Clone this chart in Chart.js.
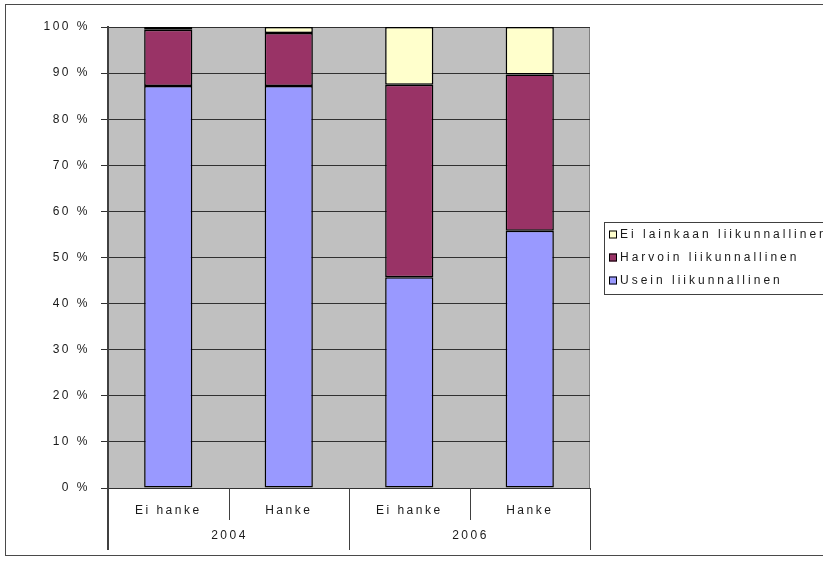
<!doctype html>
<html lang="fi">
<head>
  <meta charset="utf-8">
  <title>Liikunnallisuus 2004 ja 2006</title>
  <script src="https://cdn.jsdelivr.net/npm/chart.js"></script>
  <style>
    html, body { margin: 0; padding: 0; background: #fff; }
    canvas { display: block; }
  </style>
</head>
<body>
  <canvas id="liikuntaChart" width="823" height="565"></canvas>
  <script>
    // categories (lower row) and the year groups they belong to
    var categories = ['Ei hanke', 'Hanke', 'Ei hanke', 'Hanke'];
    var groups = ['2004', '2006'];
    var groupSize = 2;

    // shares in percent, bottom to top
    var usein = [87.2, 87.2, 45.7, 55.8];
    var harvoin = [12.2, 11.5, 41.8, 33.9];
    var eiLainkaan = [0.6, 1.3, 12.5, 10.3];

    var yTicks = [0, 10, 20, 30, 40, 50, 60, 70, 80, 90, 100];

    var FONT = 'Arial, "Liberation Sans", sans-serif';
    var TEXT = '#1a1a1a';

    // gray plot area, outer frame and letter spacing for all text
    var excelLook = {
      id: 'excelLook',
      beforeDraw: function(chart) {
        var ctx = chart.ctx, a = chart.chartArea;
        ctx.letterSpacing = '2.5px';
        ctx.save();
        ctx.fillStyle = '#c0c0c0';
        ctx.fillRect(a.left, a.top, a.right - a.left, a.bottom - a.top);
        ctx.strokeStyle = '#808080';
        ctx.lineWidth = 1;
        ctx.strokeRect(a.left + 0.5, a.top + 0.5, a.right - a.left - 1, a.bottom - a.top);
        ctx.restore();
      },
      afterDraw: function(chart) {
        var ctx = chart.ctx, a = chart.chartArea, x = chart.scales.x;
        ctx.save();
        ctx.letterSpacing = '0px';

        // outer frame
        ctx.strokeStyle = '#4a4a4a';
        ctx.lineWidth = 1;
        ctx.strokeRect(5.5, 4.5, 840, 551);

        // category table lines under the plot
        var half = (x.getPixelForValue(1) - x.getPixelForValue(0)) / 2;
        ctx.strokeStyle = '#404040';
        for (var i = 0; i <= categories.length; i++) {
          var px = i < categories.length ? x.getPixelForValue(i) - half : x.getPixelForValue(i - 1) + half;
          var outer = i % groupSize === 0;
          ctx.lineWidth = i === 0 ? 2 : 1;
          ctx.beginPath();
          ctx.moveTo(Math.round(px) + (i === 0 ? 0 : 0.5), a.bottom);
          ctx.lineTo(Math.round(px) + (i === 0 ? 0 : 0.5), outer ? 550 : 520);
          ctx.stroke();
        }

        // year labels
        ctx.letterSpacing = '2.5px';
        ctx.fillStyle = TEXT;
        ctx.font = '12px ' + FONT;
        ctx.textAlign = 'center';
        ctx.textBaseline = 'middle';
        groups.forEach(function(g, gi) {
          var first = x.getPixelForValue(gi * groupSize);
          var last = x.getPixelForValue(gi * groupSize + groupSize - 1);
          ctx.fillText(g, (first + last) / 2 + 1, 536);
        });

        // legend, top item is the last dataset
        var lx = 604, ly = 222;
        ctx.letterSpacing = '0px';
        ctx.strokeStyle = '#404040';
        ctx.lineWidth = 1;
        ctx.strokeRect(lx + 0.5, ly + 0.5, 300, 72);
        ctx.letterSpacing = '3px';
        ctx.font = '12px ' + FONT;
        ctx.textAlign = 'left';
        var ds = chart.data.datasets.slice().reverse();
        ds.forEach(function(d, k) {
          var cy = 234.5 + k * 23;
          ctx.fillStyle = d.backgroundColor;
          ctx.fillRect(609, cy - 4, 8, 8);
          ctx.strokeStyle = '#000';
          ctx.strokeRect(609.5, cy - 3.5, 7, 7);
          ctx.fillStyle = TEXT;
          ctx.fillText(d.label, 620, cy + 0.5);
        });
        ctx.restore();
      }
    };

    function stack(label, values, color) {
      return {
        label: label,
        data: values,
        backgroundColor: color,
        borderColor: '#000',
        borderWidth: 1.5,
        borderSkipped: false,
        barPercentage: 0.4,
        categoryPercentage: 1
      };
    }

    new Chart(document.getElementById('liikuntaChart'), {
      type: 'bar',
      data: {
        labels: categories,
        datasets: [
          stack('Usein liikunnallinen', usein, '#9999ff'),
          stack('Harvoin liikunnallinen', harvoin, '#993366'),
          stack('Ei lainkaan liikunnallinen', eiLainkaan, '#ffffcc')
        ]
      },
      options: {
        responsive: false,
        animation: false,
        devicePixelRatio: 1,
        layout: { padding: { top: 27, right: 233, bottom: 0, left: 0 } },
        plugins: {
          legend: { display: false },
          tooltip: { enabled: false }
        },
        scales: {
          x: {
            stacked: true,
            grid: { display: false },
            border: { display: false },
            ticks: {
              color: TEXT,
              font: { family: FONT, size: 12 },
              padding: 7,
              maxRotation: 0
            },
            afterFit: function(s) { s.height = 77; }
          },
          y: {
            stacked: true,
            min: 0,
            max: 100,
            afterBuildTicks: function(s) {
              s.ticks = yTicks.map(function(v) { return { value: v }; });
            },
            grid: {
              color: '#303030',
              lineWidth: 1,
              drawTicks: true,
              tickLength: 7,
              tickColor: '#303030'
            },
            border: { display: true, color: '#404040', width: 2 },
            ticks: {
              color: TEXT,
              font: { family: FONT, size: 12 },
              padding: 11,
              callback: function(v) { return v + ' %'; }
            },
            afterFit: function(s) { s.width = 108; }
          }
        }
      },
      plugins: [excelLook]
    });
  </script>
</body>
</html>
